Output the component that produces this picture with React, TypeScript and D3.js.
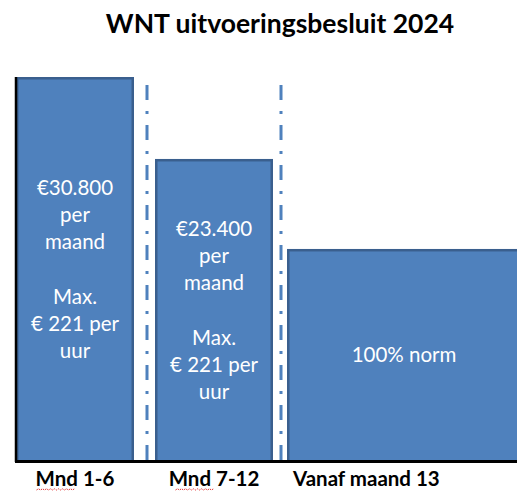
import React from "react";
import * as d3 from "d3";

const title = "WNT uitvoeringsbesluit 2024";
const categories = ["Mnd 1-6", "Mnd 7-12", "Vanaf maand 13"];
const monthStart = [0, 6, 12];
const monthEnd = [6, 12, 24];
const relHeight = [100, 78.6, 55.1];
const barTexts = [
  ["€30.800", "per", "maand", "", "Max.", "€ 221 per", "uur"],
  ["€23.400", "per", "maand", "", "Max.", "€ 221 per", "uur"],
  ["100% norm"],
];
const dividerMonths = [6, 12];

const W = 517;
const H = 491;
const FILL = "#4F81BD";
const EDGE = "#3A5F8E";
const FONT = "Lato, 'Open Sans', sans-serif";

export default function App() {
  const x = d3.scaleLinear().domain([0, 6, 12]).range([15, 147, 281]);
  const y = d3.scaleLinear().domain([0, 100]).range([460, 77]);
  const insetL = [1, 8, 6];
  const insetR = [13, 8, 0];
  const lineH = 27.3;

  return (
    <svg width={W} height={H} style={{ position: "absolute", left: 0, top: 0, background: "#fff" }}>
      <rect x={0} y={0} width={W} height={H} fill="#fff" />
      <text x={280} y={33} textAnchor="middle" fontFamily={FONT} fontWeight={700} fontSize={26.5} fill="#000">
        {title}
      </text>
      {dividerMonths.map((m, i) => (
        <line key={i} x1={x(m)} x2={x(m)} y1={85} y2={460} stroke={FILL} strokeWidth={3} strokeDasharray="15,11,3,11" />
      ))}
      {categories.map((c, i) => {
        const x0 = x(monthStart[i]) + insetL[i];
        const x1 = x(monthEnd[i]) - insetR[i];
        const yt = y(relHeight[i]);
        const yb = y(0);
        const cx = (x0 + x1) / 2;
        const cy = (yt + yb) / 2;
        const lines = barTexts[i];
        const textCx = i === 2 ? 404 : cx;
        return (
          <g key={c}>
            <rect x={x0 + 1.25} y={yt + 1.25} width={x1 - x0 - 2.5} height={yb - yt} fill={FILL} stroke={EDGE} strokeWidth={2.5} />
            {lines.map((t, j) => (
              <text key={j} x={textCx} y={cy + (j - (lines.length - 1) / 2) * lineH + 8} textAnchor="middle" fontFamily={FONT} fontSize={20.5} fill="#fff">
                {t}
              </text>
            ))}
          </g>
        );
      })}
      <line x1={16} x2={16} y1={y(100)} y2={462} stroke="#000" strokeWidth={2.5} />
      <line x1={15} x2={W} y1={461.5} y2={461.5} stroke="#000" strokeWidth={3} />
      {categories.map((c, i) => {
        const x0 = x(monthStart[i]) + insetL[i];
        const x1 = x(monthEnd[i]) - insetR[i];
        const open = i === categories.length - 1;
        const lx = open ? x0 + 6 : (x0 + x1) / 2;
        const left = open ? lx : lx - 38.5;
        const squig = c.startsWith("Mnd");
        const pts: [number, number][] = [];
        for (let k = 0; k <= 19; k++) pts.push([left + k * 2, 490 + (k % 2 === 0 ? 0 : -1.2)]);
        return (
          <g key={"l" + c}>
            <text x={lx} y={486} textAnchor={open ? "start" : "middle"} fontFamily={FONT} fontWeight={700} fontSize={20.5} fill="#000">
              {c}
            </text>
            {squig && (
              <path d={d3.line()(pts) || ""} fill="none" stroke="#E03030" strokeWidth={1} strokeDasharray="1.5,1" />
            )}
          </g>
        );
      })}
    </svg>
  );
}
